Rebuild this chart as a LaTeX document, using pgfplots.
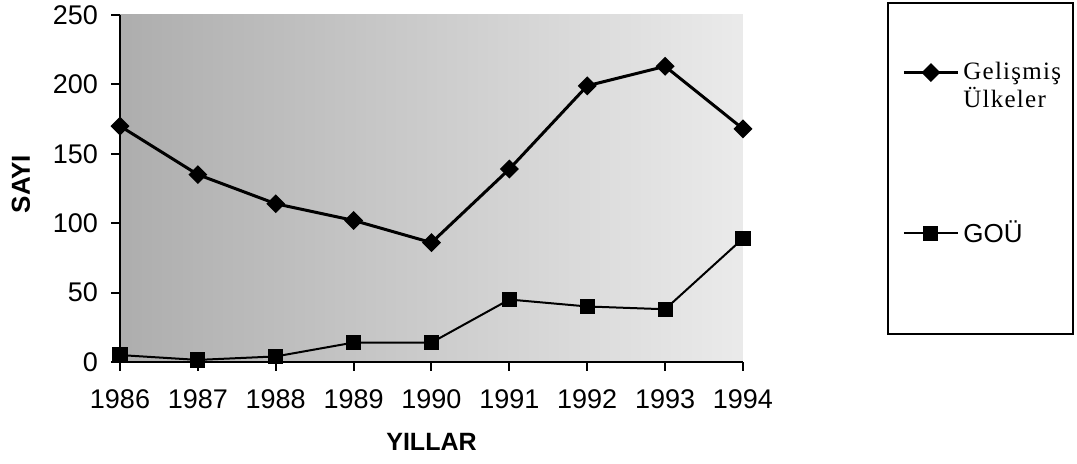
\documentclass[border=0pt]{standalone}
\usepackage{pgfplots}
\pgfplotsset{compat=1.18}
\usepackage{fontspec}
\setmainfont{Liberation Sans}
\newfontfamily\seriffont[LetterSpace=5]{Liberation Serif}

\begin{document}
\begin{tikzpicture}
\useasboundingbox (-60pt,-51pt) rectangle (478.5pt,181pt);
\begin{axis}[
  at={(0,0)}, anchor=south west,
  scale only axis, width=311.5pt, height=173.5pt,
  xmin=1986, xmax=1994, ymin=0, ymax=250,
  axis x line=bottom, axis y line=left,
  x axis line style={-}, y axis line style={-},
  axis line style={line width=1pt, black},
  xtick={1986,...,1994}, ytick={0,50,...,250},
  tick align=outside,
  tick style={line width=1pt, black},
  major tick length=4.5pt,
  /pgf/number format/1000 sep={},
  /pgf/number format/assume math mode=true,
  ticklabel style={font=\fontsize{13.5}{15}\selectfont},
  xticklabel style={yshift=-6pt},
  yticklabel style={xshift=-3pt},
  xlabel={YILLAR}, ylabel={SAYI},
  every axis x label/.style={at={(axis description cs:0.5,-0.2305)}, anchor=center,
    font=\fontsize{12.5}{15}\bfseries},
  every axis y label/.style={at={(axis description cs:-0.159,0.513)}, anchor=center, rotate=90,
    font=\fontsize{13}{15}\bfseries},
  axis background/.style={left color=black!32, right color=black!8},
  clip=false,
  legend style={draw=none, fill=none, at={(axis description cs:1.2552,0.876)},
    anchor=north west, inner sep=0pt, row sep=65pt,
    nodes={inner sep=2pt}},
  legend cell align=left,
  legend image code/.code={\draw[mark repeat=2,mark phase=2,#1] plot coordinates {(0pt,0pt) (13.5pt,0pt) (27pt,0pt)};},
]
\addplot[black, line width=1.5pt, mark=square*, mark size=2.6pt, mark options={rotate=45, solid}]
  coordinates {(1986,170) (1987,135) (1988,114) (1989,102) (1990,86) (1991,139) (1992,199) (1993,213) (1994,168)};
\addlegendentry{\fontsize{12.5}{14}\seriffont\vtop{\hbox{Gelişmiş}\hbox{Ülkeler}}}
\addplot[black, line width=1pt, mark=square*, mark size=3.3pt, mark options={solid}]
  coordinates {(1986,5) (1987,1.5) (1988,4) (1989,14) (1990,14) (1991,45) (1992,40) (1993,38) (1994,89)};
\addlegendentry{\fontsize{13}{15}\selectfont GOÜ}
\draw[line width=1pt] (axis description cs:1.2327,0.0807) rectangle (axis description cs:1.5297,1.035);
\end{axis}
\end{tikzpicture}
\end{document}
